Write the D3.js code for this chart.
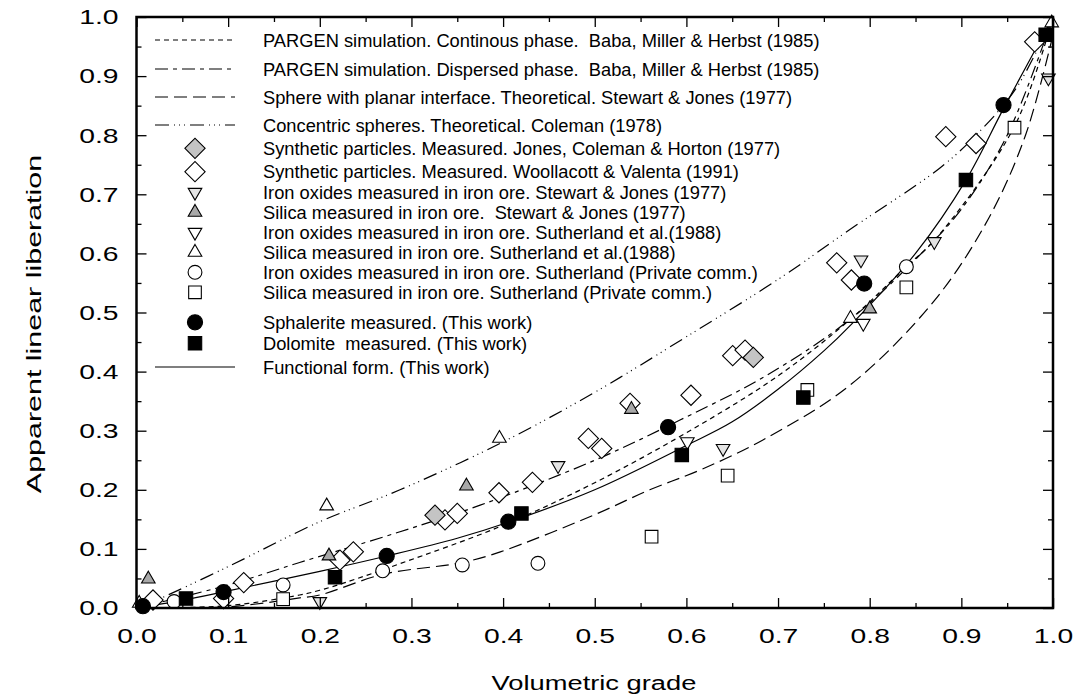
<!DOCTYPE html>
<html>
<head>
<meta charset="utf-8">
<script src="https://cdn.jsdelivr.net/npm/d3@7"></script>
<style>
body { margin: 0; background: #fff; }
text { font-family: "Liberation Sans", Arial, sans-serif; fill: #000; }
</style>
</head>
<body>
<script>
var w = 1078;
var h = 699;

// ---- data ----
// model curves (x = volumetric grade, y = apparent linear liberation)
var contX = [0, 0.1, 0.178, 0.2, 0.2275, 0.2875, 0.397, 0.5, 0.615, 0.702, 0.78, 0.84, 0.8705, 0.958, 1.0];
var contY = [0, 0.004, 0.022, 0.03, 0.043, 0.075, 0.138, 0.212, 0.31, 0.395, 0.49, 0.578, 0.622, 0.815, 1.0];

var dispX = [0, 0.1, 0.178, 0.2875, 0.375, 0.5, 0.593, 0.688, 0.78, 0.85, 0.9, 0.95, 1.0];
var dispY = [0, 0.039, 0.077, 0.129, 0.174, 0.25, 0.318, 0.394, 0.49, 0.59, 0.675, 0.8, 1.0];

var sphereX = [0, 0.1, 0.178, 0.2, 0.269, 0.3555, 0.397, 0.5, 0.56, 0.615, 0.683, 0.7785, 0.871, 0.93, 0.97, 1.0];
var sphereY = [0, 0.002, 0.017, 0.022, 0.057, 0.077, 0.095, 0.158, 0.2, 0.2335, 0.284, 0.377, 0.521, 0.66, 0.8, 0.97];

var concX = [0, 0.022, 0.1, 0.2, 0.2875, 0.4, 0.5, 0.598, 0.702, 0.778, 0.877, 0.916, 0.96, 1.0];
var concY = [0, 0.0135, 0.07, 0.146, 0.2, 0.281, 0.365, 0.457, 0.558, 0.64, 0.745, 0.8, 0.88, 1.0];

var funcX = [0, 0.05, 0.1, 0.2, 0.273, 0.35, 0.4057, 0.5, 0.6, 0.65, 0.7, 0.75, 0.78, 0.85, 0.905, 0.946, 1.0];
var funcY = [0, 0.013, 0.029, 0.062, 0.088, 0.118, 0.145, 0.2, 0.275, 0.315, 0.37, 0.435, 0.48, 0.6, 0.724, 0.845, 1.0];

// measured points [grade, liberation]
var jonesPts = [[0.3257, 0.157], [0.673, 0.424]];
var woollacottPts = [[0.018, 0.0135], [0.095, 0.016], [0.117, 0.043], [0.222, 0.081], [0.2366, 0.095],
    [0.3366, 0.149], [0.35, 0.16], [0.3955, 0.195], [0.432, 0.2127], [0.493, 0.287], [0.5076, 0.27],
    [0.5385, 0.3464], [0.605, 0.36], [0.6505, 0.427], [0.664, 0.4365], [0.764, 0.584], [0.78, 0.555],
    [0.883, 0.7975], [0.916, 0.786], [0.98, 0.958]];
var ironStewartPts = [[0.2, 0.011], [0.46, 0.241], [0.64, 0.27], [0.7905, 0.589], [0.8705, 0.62], [0.995, 0.897]];
var silicaStewartPts = [[0.0129, 0.049], [0.21, 0.088], [0.36, 0.2064], [0.54, 0.336], [0.8, 0.506]];
var ironSuthPts = [[0.601, 0.2814], [0.793, 0.4817]];
var silicaSuthPts = [[0.003, 0.008], [0.2075, 0.1726], [0.396, 0.287], [0.779, 0.49], [0.9986, 0.99]];
var ironPrivPts = [[0.041, 0.011], [0.16, 0.039], [0.2686, 0.063], [0.3555, 0.0728], [0.438, 0.0756], [0.84, 0.5775]];
var silicaPrivPts = [[0.16, 0.015], [0.562, 0.1207], [0.645, 0.224], [0.732, 0.369], [0.84, 0.5425], [0.958, 0.8127]];
var sphaleritePts = [[0.007, 0.003], [0.095, 0.027], [0.273, 0.088], [0.4057, 0.146], [0.58, 0.306],
    [0.794, 0.549], [0.946, 0.851]];
var dolomitePts = [[0.054, 0.016], [0.2166, 0.052], [0.42, 0.16], [0.595, 0.259], [0.7276, 0.356],
    [0.905, 0.724], [0.992, 0.97]];

var tickLabels = ["0.0", "0.1", "0.2", "0.3", "0.4", "0.5", "0.6", "0.7", "0.8", "0.9", "1.0"];

var legendLabels = [
    "PARGEN simulation. Continous phase.  Baba, Miller & Herbst (1985)",
    "PARGEN simulation. Dispersed phase.  Baba, Miller & Herbst (1985)",
    "Sphere with planar interface. Theoretical. Stewart & Jones (1977)",
    "Concentric spheres. Theoretical. Coleman (1978)",
    "Synthetic particles. Measured. Jones, Coleman & Horton (1977)",
    "Synthetic particles. Measured. Woollacott & Valenta (1991)",
    "Iron oxides measured in iron ore. Stewart & Jones (1977)",
    "Silica measured in iron ore.  Stewart & Jones (1977)",
    "Iron oxides measured in iron ore. Sutherland et al.(1988)",
    "Silica measured in iron ore. Sutherland et al.(1988)",
    "Iron oxides measured in iron ore. Sutherland (Private comm.)",
    "Silica measured in iron ore. Sutherland (Private comm.)",
    "Sphalerite measured. (This work)",
    "Dolomite  measured. (This work)",
    "Functional form. (This work)"
];

// ---- styles ----
var dashes = {
    cont: "5,4",
    disp: "13,5,4,5",
    sphere: "13,6",
    conc: "14,5,1,4,1,4,1,5",
    func: null
};

var markerStyles = {
    jones:    {shape: "diamond", fill: "#c4c4c4"},
    wool:     {shape: "diamond", fill: "#fff"},
    ironSJ:   {shape: "down", fill: "#e4e4e4"},
    silSJ:    {shape: "up", fill: "#a8a8a8"},
    ironSu:   {shape: "down", fill: "#fff"},
    silSu:    {shape: "up", fill: "#fff"},
    ironPr:   {shape: "circle", fill: "#fff"},
    silPr:    {shape: "square", fill: "#fff"},
    sphal:    {shape: "circle", fill: "#000"},
    dolo:     {shape: "square", fill: "#000"}
};

var svg = d3.select("body")
    .append("svg")
        .attr("width", w)
        .attr("height", h);

var x = d3.scaleLinear().domain([0, 1]).range([136.5, 1053]);
var y = d3.scaleLinear().domain([0, 1]).range([608, 17]);

var minorTicks = d3.range(0.05, 1, 0.1);
var majorTicks = d3.range(0, 11).map(function(i) { return i / 10; });

var symbolFor = function(shape, filled) {
    if (shape === "diamond") return d3.symbol().type(d3.symbolSquare).size(205)();
    if (shape === "square") return d3.symbol().type(d3.symbolSquare).size(filled ? 180 : 160)();
    if (shape === "circle") return d3.symbol().type(d3.symbolCircle).size(filled ? 180 : 150)();
    return d3.symbol().type(d3.symbolTriangle).size(80)();
};
var rotateFor = function(shape) {
    if (shape === "diamond") return 45;
    if (shape === "down") return 180;
    return 0;
};

// ---- curves ----
var makeLine = d3.line()
    .x(function(d) { return x(d[0]); })
    .y(function(d) { return y(d[1]); })
    .curve(d3.curveCatmullRom.alpha(0.5));

var zipPts = function(xs, ys) { return xs.map(function(v, i) { return [v, ys[i]]; }); };

var curves = [
    {pts: zipPts(sphereX, sphereY), dash: dashes.sphere},
    {pts: zipPts(contX, contY), dash: dashes.cont},
    {pts: zipPts(dispX, dispY), dash: dashes.disp},
    {pts: zipPts(concX, concY), dash: dashes.conc},
    {pts: zipPts(funcX, funcY), dash: dashes.func}
];

svg.append("g").selectAll("path")
    .data(curves)
    .enter()
    .append("path")
        .attr("d", function(d) { return makeLine(d.pts); })
        .attr("fill", "none")
        .attr("stroke", "#000")
        .attr("stroke-width", 1.2)
        .attr("stroke-dasharray", function(d) { return d.dash; });

// ---- points ----
var series = [
    {pts: ironPrivPts, st: markerStyles.ironPr},
    {pts: silicaPrivPts, st: markerStyles.silPr},
    {pts: woollacottPts, st: markerStyles.wool},
    {pts: jonesPts, st: markerStyles.jones},
    {pts: ironStewartPts, st: markerStyles.ironSJ},
    {pts: ironSuthPts, st: markerStyles.ironSu},
    {pts: silicaSuthPts, st: markerStyles.silSu},
    {pts: silicaStewartPts, st: markerStyles.silSJ},
    {pts: sphaleritePts, st: markerStyles.sphal},
    {pts: dolomitePts, st: markerStyles.dolo}
];

series.forEach(function(s) {
    svg.append("g").selectAll("path")
        .data(s.pts)
        .enter()
        .append("path")
            .attr("d", symbolFor(s.st.shape, s.st.fill === "#000"))
            .attr("transform", function(d) {
                return "translate(" + x(d[0]) + "," + y(d[1]) + ") rotate(" + rotateFor(s.st.shape) + ")";
            })
            .attr("fill", s.st.fill)
            .attr("stroke", "#000")
            .attr("stroke-width", 1.1);
});

// ---- axes (inward ticks on all four sides) ----
var addAxis = function(axisFn, scale, tx, ty, values, size, labels) {
    var ax = axisFn(scale).tickValues(values).tickSizeInner(-size).tickSizeOuter(0);
    if (labels) ax.tickFormat(function(d, i) { return tickLabels[i]; });
    else ax.tickFormat("");
    var g = svg.append("g")
        .attr("transform", "translate(" + tx + "," + ty + ")")
        .call(ax);
    g.select(".domain").remove();
    g.selectAll("line").attr("stroke", "#000").attr("stroke-width", 1.3);
    return g;
};

var gb = addAxis(d3.axisBottom, x, 0, 608, majorTicks, 10, true);
addAxis(d3.axisBottom, x, 0, 608, minorTicks, 5, false);
addAxis(d3.axisTop, x, 0, 17, majorTicks, 10, false);
addAxis(d3.axisTop, x, 0, 17, minorTicks, 5, false);
var gl = addAxis(d3.axisLeft, y, 136.5, 0, majorTicks, 10, true);
addAxis(d3.axisLeft, y, 136.5, 0, minorTicks, 5, false);
addAxis(d3.axisRight, y, 1053, 0, majorTicks, 10, false);
addAxis(d3.axisRight, y, 1053, 0, minorTicks, 5, false);

gb.selectAll("text")
    .attr("x", 0)
    .attr("y", 0)
    .attr("dy", null)
    .attr("font-size", 19.5)
    .attr("font-family", "Liberation Sans, Arial, sans-serif")
    .attr("text-anchor", "middle")
    .attr("transform", "translate(0,35) scale(1.45,1)");

gl.selectAll("text")
    .attr("x", 0)
    .attr("dy", "0.35em")
    .attr("font-size", 19.5)
    .attr("font-family", "Liberation Sans, Arial, sans-serif")
    .attr("text-anchor", "end")
    .attr("transform", "translate(-18,0) scale(1.45,1)");

// frame
svg.append("rect")
    .attr("x", 136.5)
    .attr("y", 17)
    .attr("width", 1053 - 136.5)
    .attr("height", 608 - 17)
    .attr("fill", "none")
    .attr("stroke", "#000")
    .attr("stroke-width", 2.5);

// axis titles
svg.append("text")
    .attr("transform", "translate(594,690) scale(1.3,1)")
    .attr("text-anchor", "middle")
    .attr("font-size", 21)
    .text("Volumetric grade");

svg.append("text")
    .attr("transform", "translate(41,324) rotate(-90) scale(1.45,1)")
    .attr("text-anchor", "middle")
    .attr("font-size", 21)
    .text("Apparent linear liberation");

// ---- legend ----
var legendRowY = [40, 69, 97, 125, 148.3, 171.7, 192.3, 212.3, 232.3, 252.3, 272.3, 292.3, 322.3, 343.3, 367];
var legendItems = [
    {dash: dashes.cont}, {dash: dashes.disp}, {dash: dashes.sphere}, {dash: dashes.conc},
    {mk: markerStyles.jones}, {mk: markerStyles.wool}, {mk: markerStyles.ironSJ}, {mk: markerStyles.silSJ},
    {mk: markerStyles.ironSu}, {mk: markerStyles.silSu}, {mk: markerStyles.ironPr}, {mk: markerStyles.silPr},
    {mk: markerStyles.sphal}, {mk: markerStyles.dolo}, {dash: "none"}
];

var leg = svg.append("g");
legendItems.forEach(function(item, i) {
    var yy = legendRowY[i];
    if (item.mk) {
        leg.append("path")
            .attr("d", symbolFor(item.mk.shape, item.mk.fill === "#000"))
            .attr("transform", "translate(195," + yy + ") rotate(" + rotateFor(item.mk.shape) + ")")
            .attr("fill", item.mk.fill)
            .attr("stroke", "#000")
            .attr("stroke-width", 1.1);
    } else {
        leg.append("line")
            .attr("x1", 155).attr("x2", 235)
            .attr("y1", yy).attr("y2", yy)
            .attr("stroke", "#000")
            .attr("stroke-width", 1.2)
            .attr("stroke-dasharray", item.dash === "none" ? null : item.dash);
    }
    leg.append("text")
        .attr("x", 263)
        .attr("y", yy)
        .attr("dy", "0.36em")
        .attr("font-size", 18.3)
        .style("white-space", "pre")
        .text(legendLabels[i]);
});
</script>
</body>
</html>
